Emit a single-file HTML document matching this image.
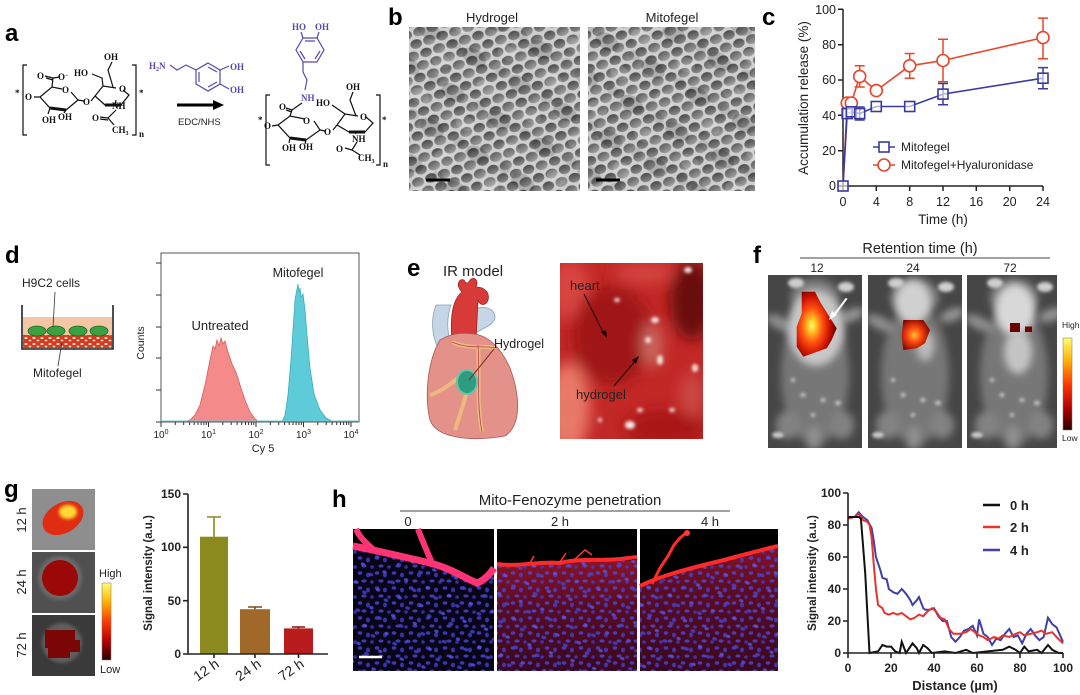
<!DOCTYPE html>
<html><head><meta charset="utf-8"><style>
html,body{margin:0;padding:0;background:#fff;}
svg{display:block;}
text{font-family:"Liberation Sans",Arial,sans-serif;fill:#222;}
.ch{font-family:"Liberation Serif",serif;font-weight:bold;font-size:9px;fill:#111;}
.cp{font-family:"Liberation Serif",serif;font-weight:bold;font-size:9px;fill:#5848b0;}
.pl{font-size:24px;font-weight:bold;fill:#000;}
.bd{font-weight:bold;}
</style></head><body>
<svg width="1080" height="695" viewBox="0 0 1080 695" xmlns="http://www.w3.org/2000/svg">
<defs>
 <filter id="b2" x="-30%" y="-30%" width="160%" height="160%"><feGaussianBlur stdDeviation="1.5"/></filter>
 <filter id="b4" x="-50%" y="-50%" width="200%" height="200%"><feGaussianBlur stdDeviation="4"/></filter>
 <filter id="b7" x="-50%" y="-50%" width="200%" height="200%"><feGaussianBlur stdDeviation="7"/></filter>
 <linearGradient id="cellg" x1="0" y1="0" x2="0" y2="1">
  <stop offset="0" stop-color="#4a4a4a"/><stop offset="1" stop-color="#8a8a8a"/>
 </linearGradient>
 <linearGradient id="cellh" x1="0" y1="0" x2="0.3" y2="1">
  <stop offset="0" stop-color="#555"/><stop offset="1" stop-color="#9a9a9a"/>
 </linearGradient>
 <pattern id="sem" width="26" height="44" patternUnits="userSpaceOnUse" patternTransform="rotate(-18) scale(1.05 1)">
  <rect width="26" height="44" fill="#cfcfcf"/>
  <ellipse cx="6.5" cy="5.5" rx="5.6" ry="4.6" fill="url(#cellg)"/>
  <ellipse cx="19.5" cy="5.5" rx="5.8" ry="4.9" fill="url(#cellh)"/>
  <ellipse cx="0" cy="16.5" rx="5.7" ry="4.8" fill="url(#cellh)"/>
  <ellipse cx="13" cy="16.5" rx="5.5" ry="4.6" fill="url(#cellg)"/>
  <ellipse cx="26" cy="16.5" rx="5.7" ry="4.8" fill="url(#cellh)"/>
  <ellipse cx="6.5" cy="27.5" rx="5.8" ry="4.7" fill="url(#cellh)"/>
  <ellipse cx="19.5" cy="27.5" rx="5.5" ry="4.8" fill="url(#cellg)"/>
  <ellipse cx="0" cy="38.5" rx="5.6" ry="4.7" fill="url(#cellg)"/>
  <ellipse cx="13" cy="38.5" rx="5.8" ry="4.9" fill="url(#cellh)"/>
  <ellipse cx="26" cy="38.5" rx="5.6" ry="4.7" fill="url(#cellg)"/>
 </pattern>
 <pattern id="sem2" width="53" height="41" patternUnits="userSpaceOnUse" patternTransform="rotate(31)">
  <ellipse cx="12" cy="10" rx="13" ry="8" fill="#000" opacity="0.16"/>
  <ellipse cx="38" cy="30" rx="10" ry="7" fill="#fff" opacity="0.14"/>
  <ellipse cx="42" cy="8" rx="6" ry="5" fill="#000" opacity="0.1"/>
 </pattern>
 <pattern id="nuc1" width="17" height="15" patternUnits="userSpaceOnUse">
  <ellipse cx="3" cy="3" rx="2.3" ry="1.7" fill="#4a4ae6"/>
  <ellipse cx="11" cy="5" rx="2" ry="2.4" fill="#4444d8"/>
  <ellipse cx="7" cy="11" rx="2.6" ry="1.6" fill="#5050e0"/>
  <ellipse cx="15" cy="12" rx="1.8" ry="1.8" fill="#4040d0"/>
 </pattern>
 <pattern id="nuc2" width="23" height="19" patternUnits="userSpaceOnUse" patternTransform="rotate(20)">
  <ellipse cx="5" cy="7" rx="2.2" ry="1.6" fill="#5a5af0"/>
  <ellipse cx="16" cy="14" rx="2.5" ry="1.8" fill="#4848d8"/>
 </pattern>
 <pattern id="mesh" width="8" height="6" patternUnits="userSpaceOnUse">
  <rect width="8" height="6" fill="#d83a1e"/>
  <ellipse cx="2" cy="2" rx="1.6" ry="1" fill="#fbe6d8"/>
  <ellipse cx="6" cy="4.5" rx="1.4" ry="0.9" fill="#fbe6d8"/>
 </pattern>
 <linearGradient id="heat" x1="0" y1="0" x2="0" y2="1">
  <stop offset="0" stop-color="#ffff70"/><stop offset="0.25" stop-color="#ffb000"/>
  <stop offset="0.5" stop-color="#ff3a00"/><stop offset="0.75" stop-color="#b80000"/>
  <stop offset="1" stop-color="#2a0000"/>
 </linearGradient>
 <radialGradient id="hot1" cx="0.38" cy="0.52" r="0.6">
  <stop offset="0" stop-color="#ffff70"/><stop offset="0.18" stop-color="#ffc020"/>
  <stop offset="0.45" stop-color="#ff5010"/><stop offset="0.75" stop-color="#c81000"/>
  <stop offset="1" stop-color="#700000"/>
 </radialGradient>
 <radialGradient id="hot2" cx="0.45" cy="0.5" r="0.6">
  <stop offset="0" stop-color="#ffc030"/><stop offset="0.4" stop-color="#ff4a10"/>
  <stop offset="1" stop-color="#7a0000"/>
 </radialGradient>
 <linearGradient id="haze" x1="0" y1="0" x2="0" y2="1">
  <stop offset="0" stop-color="#8a1428"/><stop offset="0.4" stop-color="#5a0c24"/>
  <stop offset="1" stop-color="#3a0822"/>
 </linearGradient>
 <g id="mouse">
  <rect width="95" height="173" fill="#464646"/>
  <g filter="url(#b4)">
   <ellipse cx="47" cy="100" rx="34" ry="70" fill="#777"/>
   <ellipse cx="47" cy="22" rx="24" ry="18" fill="#808080"/>
   <ellipse cx="12" cy="48" rx="15" ry="6" fill="#929292" transform="rotate(25 12 48)"/>
   <ellipse cx="84" cy="40" rx="13" ry="6" fill="#969696" transform="rotate(-20 84 40)"/>
   <ellipse cx="20" cy="150" rx="12" ry="14" fill="#828282"/>
   <ellipse cx="74" cy="150" rx="12" ry="14" fill="#828282"/>
   <rect x="40" y="152" width="12" height="22" fill="#909090"/>
  </g>
  <g filter="url(#b2)" fill="#cfcfcf">
   <ellipse cx="28" cy="8" rx="8" ry="5"/>
   <ellipse cx="78" cy="12" rx="8" ry="5"/>
   <ellipse cx="35" cy="120" rx="2.5" ry="2"/>
   <ellipse cx="55" cy="125" rx="2.5" ry="2"/>
   <ellipse cx="45" cy="140" rx="2" ry="2"/>
   <ellipse cx="70" cy="128" rx="3" ry="2"/>
   <ellipse cx="25" cy="105" rx="2" ry="2"/>
   <ellipse cx="10" cy="160" rx="6" ry="3"/>
  </g>
 </g>
 <clipPath id="cf1"><rect x="768" y="275" width="94" height="173"/></clipPath>
 <clipPath id="cf2"><rect x="868" y="275" width="94" height="173"/></clipPath>
 <clipPath id="cf3"><rect x="967" y="275" width="90" height="173"/></clipPath>
 <clipPath id="cE"><rect x="560" y="263" width="143" height="176"/></clipPath>
 <clipPath id="ch0"><path d="M353,548 L380,553 L430,565 L463,577 L477,585 L494,572 L494,671 L353,671 Z"/></clipPath>
 <clipPath id="ch2"><path d="M497,565 L637,560 L637,671 L497,671 Z"/></clipPath>
 <clipPath id="ch4"><path d="M640,587 L700,567 L778,547 L778,671 L640,671 Z"/></clipPath>
 <clipPath id="cg"><rect x="32" y="489" width="63" height="187"/></clipPath>
</defs>
<rect width="1080" height="695" fill="#fff"/>

<!-- ========== Panel a ========== -->
<text class="pl" x="5" y="41">a</text>
<g stroke="#111" stroke-width="1.2" fill="none">
 <path d="M27,65 H23 V135 H27 M132,65 H136 V135 H132"/>
 <path d="M34,97 L40,97 L52,87 L62,89 M71,92 L78,100 L66,110 L50,108 L40,97"/>
 <path d="M50,108 L66,110" stroke-width="3"/>
 <path d="M52,87 L53,78 L45,76 M53,80 L46,78 M53,78 L60,77"/>
 <path d="M50,108 L48,114 M66,110 L64,113 M78,100 L84,101 M91,101 L95,96"/>
 <path d="M95,96 L103,86 L116,88 M123,90 L129,95 L121,105 L105,105 L95,96"/>
 <path d="M105,105 L121,105" stroke-width="3"/>
 <path d="M103,86 L102,78 L92,74 M113,87 L108,70 L112,62 M115,105 L116,100 M116,110 L108,118 M108,118 L100,117 M108,120 L100,119 M108,118 L114,125"/>
</g>
<text class="ch" x="15" y="96">*</text>
<text class="ch" x="25" y="100">O</text>
<text class="ch" x="37" y="79">O</text>
<text class="ch" x="58" y="80">O<tspan dy="-3" font-size="6">−</tspan></text>
<text class="ch" x="62" y="93">O</text>
<text class="ch" x="42" y="123">OH</text>
<text class="ch" x="58" y="120">OH</text>
<text class="ch" x="83" y="105">O</text>
<text class="ch" x="119" y="92">O</text>
<text class="ch" x="74" y="76">HO</text>
<text class="ch" x="104" y="60">OH</text>
<text class="ch" x="112" y="109">NH</text>
<text class="ch" x="92" y="121">O</text>
<text class="ch" x="112" y="133">CH<tspan font-size="6" dy="2">3</tspan></text>
<text class="ch" x="139" y="96">*</text>
<text class="ch" x="139" y="137" font-size="7">n</text>
<g stroke="#5848b0" stroke-width="1.2" fill="none">
 <path d="M170,65 L177,70 L186,65 L196,70"/>
 <path d="M208,63 L220,70 L220,84 L208,91 L196,84 L196,70 Z"/>
 <path d="M208,67 L217,72 M217,82 L208,87 M199,72 L199,82"/>
 <path d="M220,70 L229,66 M220,84 L229,89"/>
</g>
<text class="cp" x="149" y="69">H<tspan font-size="6" dy="2">2</tspan><tspan dy="-2">N</tspan></text>
<text class="cp" x="230" y="70">OH</text>
<text class="cp" x="230" y="93">OH</text>
<path d="M177,105 H214" stroke="#000" stroke-width="3"/>
<polygon points="213,100 224,105 213,110" fill="#000"/>
<text x="178" y="125" font-size="9.5" fill="#333">EDC/NHS</text>
<g stroke="#5848b0" stroke-width="1.2" fill="none">
 <path d="M303,38 L317,38 L324,50 L317,62 L303,62 L296,50 Z"/>
 <path d="M305,41 L315,41 M320,51 L315,59 M300,51 L305,59"/>
 <path d="M303,38 L301,32 M317,38 L319,32 M303,62 L303,72 L307,80 L305,90"/>
</g>
<text class="cp" x="292" y="30">HO</text>
<text class="cp" x="315" y="30">OH</text>
<text class="cp" x="301" y="101">NH</text>
<g stroke="#111" stroke-width="1.2" fill="none">
 <path d="M270,95 H266 V165 H270 M376,95 H380 V165 H376"/>
 <path d="M302,103 L292,110 L290,116 M292,110 L286,108 M292,112 L286,110"/>
 <path d="M272,126 L278,125 L290,116 L305,119 M314,121 L320,130 L306,140 L290,138 L278,125"/>
 <path d="M290,138 L306,140" stroke-width="3"/>
 <path d="M290,138 L289,143 M306,140 L305,144 M320,130 L325,131 M333,130 L337,125"/>
 <path d="M337,125 L345,114 L358,116 M366,117 L373,123 L365,132 L349,132 L337,125"/>
 <path d="M349,132 L365,132" stroke-width="3"/>
 <path d="M345,114 L332,105 M356,116 L350,100 L353,92 M355,132 L356,134 M357,142 L352,150 L345,148 M352,150 L360,155"/>
</g>
<text class="ch" x="258" y="123">*</text>
<text class="ch" x="264" y="129">O</text>
<text class="ch" x="279" y="110">O</text>
<text class="ch" x="303" y="124">O</text>
<text class="ch" x="282" y="151">OH</text>
<text class="ch" x="299" y="150">OH</text>
<text class="ch" x="324" y="135">O</text>
<text class="ch" x="360" y="120">O</text>
<text class="ch" x="316" y="106">HO</text>
<text class="ch" x="346" y="90">OH</text>
<text class="ch" x="352" y="142">NH</text>
<text class="ch" x="336" y="152">O</text>
<text class="ch" x="358" y="161">CH<tspan font-size="6" dy="2">3</tspan></text>
<text class="ch" x="382" y="123">*</text>
<text class="ch" x="383" y="167" font-size="7">n</text>

<!-- ========== Panel b ========== -->
<text class="pl" x="388" y="25">b</text>
<text x="492" y="22" font-size="13" text-anchor="middle">Hydrogel</text>
<text x="672" y="22" font-size="13" text-anchor="middle">Mitofegel</text>
<rect x="409" y="27" width="171" height="164" fill="url(#sem)"/>
<rect x="409" y="27" width="171" height="164" fill="url(#sem2)"/>
<rect x="588" y="27" width="167" height="164" fill="url(#sem)"/>
<rect x="588" y="27" width="167" height="164" fill="url(#sem2)"/>
<path d="M426,180 H450 M596,180 H620" stroke="#000" stroke-width="3"/>

<!-- ========== Panel c ========== -->
<text class="pl" x="762" y="25">c</text>
<g stroke="#222" stroke-width="1.5" fill="none">
 <path d="M843,9 V186 H1043"/>
 <path d="M838,9.3 H843 M838,44.7 H843 M838,80 H843 M838,115.3 H843 M838,150.7 H843 M838,186 H843"/>
 <path d="M843,186 V191 M876.3,186 V191 M909.7,186 V191 M943,186 V191 M976.3,186 V191 M1009.7,186 V191 M1043,186 V191"/>
</g>
<g font-size="12.5" text-anchor="end">
 <text x="836" y="14">100</text><text x="836" y="49">80</text><text x="836" y="84">60</text>
 <text x="836" y="120">40</text><text x="836" y="155">20</text><text x="836" y="190">0</text>
</g>
<g font-size="12.5" text-anchor="middle">
 <text x="843" y="206">0</text><text x="876.3" y="206">4</text><text x="909.7" y="206">8</text>
 <text x="943" y="206">12</text><text x="976.3" y="206">16</text><text x="1009.7" y="206">20</text><text x="1043" y="206">24</text>
</g>
<text x="943" y="224" font-size="13.5" text-anchor="middle">Time (h)</text>
<text transform="translate(808,98) rotate(-90)" font-size="13.5" text-anchor="middle">Accumulation release (%)</text>
<g stroke="#3a3aa0" stroke-width="1.5">
 <path d="M847.2,108 V119 M851.3,107 V117 M859.7,107 V120 M854.7,107 H864.7 M854.7,120 H864.7"/>
 <path d="M943,83.5 V104.7 M938,83.5 H948 M938,104.7 H948"/>
 <path d="M1043,67.6 V88.8 M1038,67.6 H1048 M1038,88.8 H1048"/>
</g>
<g stroke="#e8442c" stroke-width="1.5">
 <path d="M859.7,65.8 V87 M854.7,65.8 H864.7 M854.7,87 H864.7"/>
 <path d="M909.7,53.5 V78.2 M904.7,53.5 H914.7 M904.7,78.2 H914.7"/>
 <path d="M943,39.3 V81.7 M938,39.3 H948 M938,81.7 H948"/>
 <path d="M1043,18.1 V58.8 M1038,18.1 H1048 M1038,58.8 H1048"/>
</g>
<polyline points="843,186 847.2,103 851.3,103 859.7,76.4 876.3,90.6 909.7,65.8 943,60.5 1043,37.6" fill="none" stroke="#e8442c" stroke-width="1.6"/>
<polyline points="843,186 847.2,113.6 851.3,111.8 859.7,113.6 876.3,106.5 909.7,106.5 943,94.1 1043,78.2" fill="none" stroke="#3a3aa0" stroke-width="1.6"/>
<g fill="#fff" stroke="#e8442c" stroke-width="1.6">
 <circle cx="847.2" cy="103" r="6"/><circle cx="851.3" cy="103" r="6"/><circle cx="859.7" cy="76.4" r="6"/>
 <circle cx="876.3" cy="90.6" r="6"/><circle cx="909.7" cy="65.8" r="6"/><circle cx="943" cy="60.5" r="6"/><circle cx="1043" cy="37.6" r="6"/>
</g>
<g fill="#fff" fill-opacity="0.6" stroke="#3a3aa0" stroke-width="1.6">
 <rect x="838" y="181" width="10" height="10"/>
 <rect x="842.2" y="108.6" width="10" height="10"/><rect x="846.3" y="106.8" width="10" height="10"/><rect x="854.7" y="108.6" width="10" height="10"/>
 <rect x="871.3" y="101.5" width="10" height="10"/><rect x="904.7" y="101.5" width="10" height="10"/><rect x="938" y="89.1" width="10" height="10"/><rect x="1038" y="73.2" width="10" height="10"/>
</g>
<path d="M873,147 H895" stroke="#3a3aa0" stroke-width="1.6"/>
<rect x="879" y="142" width="10" height="10" fill="#fff" stroke="#3a3aa0" stroke-width="1.6"/>
<text x="901" y="151" font-size="12">Mitofegel</text>
<path d="M873,165 H895" stroke="#e8442c" stroke-width="1.6"/>
<circle cx="884" cy="165" r="6" fill="#fff" stroke="#e8442c" stroke-width="1.6"/>
<text x="901" y="169" font-size="12">Mitofegel+Hyaluronidase</text>

<!-- ========== Panel d ========== -->
<text class="pl" x="5" y="263">d</text>
<text x="22" y="287" font-size="12">H9C2 cells</text>
<rect x="23" y="317" width="89" height="31" fill="#f3c6a6"/>
<rect x="23" y="335" width="89" height="13" fill="url(#mesh)"/>
<g fill="#3aa040" stroke="#1f6a25" stroke-width="0.8">
 <ellipse cx="37" cy="331" rx="9" ry="5"/><ellipse cx="56" cy="331" rx="9" ry="5"/>
 <ellipse cx="78" cy="331" rx="9" ry="5"/><ellipse cx="99" cy="331" rx="9" ry="5"/>
</g>
<path d="M22,305 V349 H113 V305" fill="none" stroke="#222" stroke-width="1.6"/>
<path d="M55,292 L53,327 M62,342 L58,366" stroke="#333" stroke-width="0.8"/>
<text x="33" y="377" font-size="12">Mitofegel</text>
<path d="M183,422 L190,420 L195,415 L200,405 L205,385 L210,360 L213,346 L215,349 L217,340 L219,346 L221,338 L223,344 L225,341 L228,352 L232,364 L236,372 L240,385 L245,400 L250,412 L255,419 L259,422 Z" fill="#f48a8a" stroke="#dc5c5c" stroke-width="0.8"/>
<path d="M282,422 L285,415 L288,395 L291,360 L293,330 L295,300 L297,289 L298,284 L299,292 L300,288 L301,297 L303,294 L305,310 L307,335 L310,368 L314,394 L320,410 L326,418 L334,422 Z" fill="#5ecbd8" stroke="#3aaebe" stroke-width="0.8"/>
<path d="M162,421 H358" stroke="#6cc8d4" stroke-width="1"/>
<rect x="161" y="253" width="198" height="169" fill="none" stroke="#555" stroke-width="1"/>
<g stroke="#333" stroke-width="1">
 <path d="M156,263 H161 M156,295 H161 M156,327 H161 M156,358 H161 M156,390 H161 M156,422 H161"/>
 <path d="M161,422 V427 M208.5,422 V427 M256,422 V427 M303.5,422 V427 M351,422 V427"/>
 <path d="M175.3,422 V425 M183.7,422 V425 M189.6,422 V425 M194.2,422 V425 M198,422 V425 M201.1,422 V425 M203.9,422 V425 M206.3,422 V425
 M222.8,422 V425 M231.2,422 V425 M237.1,422 V425 M241.7,422 V425 M245.5,422 V425 M248.6,422 V425 M251.4,422 V425 M253.8,422 V425
 M270.3,422 V425 M278.7,422 V425 M284.6,422 V425 M289.2,422 V425 M293,422 V425 M296.1,422 V425 M298.9,422 V425 M301.3,422 V425
 M317.8,422 V425 M326.2,422 V425 M332.1,422 V425 M336.7,422 V425 M340.5,422 V425 M343.6,422 V425 M346.4,422 V425 M348.8,422 V425"/>
</g>
<g font-size="10" text-anchor="middle">
 <text x="161" y="438">10<tspan font-size="7" dy="-4">0</tspan></text>
 <text x="208.5" y="438">10<tspan font-size="7" dy="-4">1</tspan></text>
 <text x="256" y="438">10<tspan font-size="7" dy="-4">2</tspan></text>
 <text x="303.5" y="438">10<tspan font-size="7" dy="-4">3</tspan></text>
 <text x="351" y="438">10<tspan font-size="7" dy="-4">4</tspan></text>
</g>
<text x="263" y="452" font-size="11" text-anchor="middle">Cy 5</text>
<text transform="translate(144,343) rotate(-90)" font-size="10.5" text-anchor="middle">Counts</text>
<text x="220" y="330" font-size="13" text-anchor="middle">Untreated</text>
<text x="298" y="277" font-size="12.5" text-anchor="middle">Mitofegel</text>

<!-- ========== Panel e ========== -->
<text class="pl" x="407" y="276">e</text>
<text x="443" y="276" font-size="15">IR model</text>
<path d="M436,305 C431,318 431,335 439,350 L452,347 C446,332 447,316 451,305 Z" fill="#c6d6e6" stroke="#8aa0b8" stroke-width="0.8"/>
<path d="M470,312 C480,305 493,306 495,316 C495,324 487,326 481,330 L470,336 Z" fill="#c6d6e6" stroke="#8aa0b8" stroke-width="0.8"/>
<path d="M452,342 C450,318 452,300 462,292 C456,286 458,278 464,280 C466,284 468,284 470,280 C474,276 479,280 476,287 C484,287 490,292 488,300 C486,306 480,306 478,300 L476,340 Z" fill="#d83a3a" stroke="#a02020" stroke-width="0.8"/>
<path d="M440,340 C428,360 424,395 430,420 C436,438 470,442 505,436 C522,425 520,395 510,368 C502,350 490,336 474,334 C462,332 450,334 440,340 Z" fill="#e4918a" stroke="#a85858" stroke-width="0.8"/>
<path d="M452,342 C470,350 485,345 495,348 M478,345 C480,370 476,400 482,432 M470,380 C465,400 460,415 455,430 M430,395 C445,390 455,380 462,375" fill="none" stroke="#f0c27a" stroke-width="4" opacity="0.8"/>
<path d="M478,345 C480,370 476,400 482,432 M452,342 C470,350 485,345 495,348" fill="none" stroke="#b04848" stroke-width="0.8"/>
<ellipse cx="467" cy="382" rx="10" ry="12" fill="#2f9c80" stroke="#62c6a8" stroke-width="2"/>
<line x1="469" y1="380" x2="494" y2="349" stroke="#8a2a2a" stroke-width="1"/>
<text x="494" y="348" font-size="12.5">Hydrogel</text>
<g clip-path="url(#cE)">
 <rect x="560" y="263" width="143" height="176" fill="#c22826"/>
 <g filter="url(#b7)">
  <ellipse cx="568" cy="408" rx="22" ry="45" fill="#e87868"/>
  <ellipse cx="570" cy="290" rx="20" ry="30" fill="#d84440"/>
  <ellipse cx="612" cy="335" rx="40" ry="50" fill="#a01418"/>
  <ellipse cx="692" cy="300" rx="22" ry="40" fill="#6a0c10"/>
  <ellipse cx="652" cy="345" rx="10" ry="22" fill="#cc6a62"/>
  <ellipse cx="665" cy="428" rx="40" ry="18" fill="#a81414"/>
  <ellipse cx="645" cy="273" rx="30" ry="10" fill="#d44440"/>
  <ellipse cx="692" cy="395" rx="12" ry="22" fill="#cc4a44"/>
 </g>
 <g fill="#f4e8e4" filter="url(#b2)">
  <ellipse cx="617" cy="300" rx="3" ry="2"/><ellipse cx="655" cy="320" rx="4" ry="3"/>
  <ellipse cx="660" cy="360" rx="3" ry="5"/><ellipse cx="640" cy="410" rx="3" ry="2"/>
  <ellipse cx="630" cy="425" rx="5" ry="4"/><ellipse cx="688" cy="270" rx="4" ry="3"/>
  <ellipse cx="695" cy="368" rx="3" ry="4"/><ellipse cx="672" cy="410" rx="3" ry="2"/>
  <ellipse cx="600" cy="420" rx="2" ry="2"/><ellipse cx="648" cy="340" rx="3" ry="3"/>
 </g>
</g>
<text x="570" y="290" font-size="13" fill="#1a0505">heart</text>
<path d="M584,294 L604,334" stroke="#1a0505" stroke-width="1"/>
<polygon points="601,332 607,338 606,330" fill="#1a0505"/>
<text x="576" y="399" font-size="13" fill="#1a0505">hydrogel</text>
<path d="M614,386 L636,360" stroke="#1a0505" stroke-width="1"/>
<polygon points="632,360 639,356 636,364" fill="#1a0505"/>

<!-- ========== Panel f ========== -->
<text class="pl" x="753" y="263">f</text>
<text x="920" y="253" font-size="14.5" text-anchor="middle">Retention time (h)</text>
<path d="M800,258 H1050" stroke="#444" stroke-width="1"/>
<text x="817" y="272" font-size="12" text-anchor="middle">12</text>
<text x="913" y="272" font-size="12" text-anchor="middle">24</text>
<text x="1010" y="272" font-size="12" text-anchor="middle">72</text>
<g clip-path="url(#cf1)">
 <use href="#mouse" x="768" y="275"/>
 <ellipse cx="816" cy="328" rx="28" ry="38" fill="#c8c8c8" filter="url(#b4)"/>
 <path d="M801.7,291.7 L815,291.7 L820,301.7 L828.3,315 L836.7,328.3 L831.7,340 L826.7,348.3 L803.3,356.7 L796.7,346.7 L796.7,326.7 L801.7,313.3 Z" fill="url(#hot1)"/>
 <path d="M846.7,298.3 L833,316.5" stroke="#fff" stroke-width="2"/>
 <polygon points="829,320 832,311 837,315" fill="#fff"/>
</g>
<g clip-path="url(#cf2)">
 <use href="#mouse" x="868" y="275"/>
 <ellipse cx="913" cy="302" rx="18" ry="22" fill="#d0d0d0" filter="url(#b4)"/>
 <ellipse cx="925" cy="345" rx="9" ry="16" fill="#bbb" filter="url(#b4)"/>
 <path d="M903.3,320 L923.3,320 L930,330 L925,343.3 L916.7,348.3 L903.3,350 L901.7,336.7 Z" fill="url(#hot2)"/>
</g>
<g clip-path="url(#cf3)">
 <use href="#mouse" x="967" y="275"/>
 <ellipse cx="1015" cy="310" rx="20" ry="26" fill="#d8d8d8" filter="url(#b4)"/>
 <ellipse cx="1018" cy="352" rx="14" ry="22" fill="#c4c4c4" filter="url(#b4)"/>
 <rect x="1010" y="323" width="10" height="9" fill="#6a0404"/>
 <rect x="1025" y="326.5" width="7" height="5.5" fill="#6a0404"/>
</g>
<text x="1062" y="328" font-size="8.5">High</text>
<rect x="1063" y="338" width="9" height="92" fill="url(#heat)" stroke="#777" stroke-width="0.5"/>
<text x="1062" y="441" font-size="8.5">Low</text>

<!-- ========== Panel g ========== -->
<text class="pl" x="4" y="497">g</text>
<g clip-path="url(#cg)">
 <rect x="32" y="489" width="63" height="61" fill="#8e8e8e"/>
 <ellipse cx="63" cy="518" rx="22" ry="15" transform="rotate(-30 63 518)" fill="#e02c10"/>
 <ellipse cx="68" cy="512" rx="9" ry="7" fill="#ffd830" filter="url(#b2)"/>
 <rect x="32" y="552" width="63" height="61" fill="#505050"/>
 <ellipse cx="60" cy="578" rx="22" ry="22" fill="#6a6a6a" filter="url(#b2)"/>
 <ellipse cx="60" cy="578" rx="18" ry="18" fill="#9c0808"/>
 <rect x="32" y="615" width="63" height="61" fill="#3a3a3a"/>
 <ellipse cx="62" cy="643" rx="20" ry="20" fill="#5e5e5e" filter="url(#b2)"/>
 <path d="M45,630 H75 V640 H80 V652 H70 V658 H48 V648 H45 Z" fill="#7a0606"/>
</g>
<path d="M32,551 H95 M32,614 H95" stroke="#fff" stroke-width="2"/>
<text transform="translate(26,520) rotate(-90)" font-size="13" text-anchor="middle">12 h</text>
<text transform="translate(26,582) rotate(-90)" font-size="13" text-anchor="middle">24 h</text>
<text transform="translate(26,645) rotate(-90)" font-size="13" text-anchor="middle">72 h</text>
<text x="99" y="577" font-size="11">High</text>
<rect x="102" y="583" width="9" height="77" fill="url(#heat)" stroke="#777" stroke-width="0.5"/>
<text x="100" y="673" font-size="11">Low</text>
<rect x="200" y="536.7" width="28" height="117.3" fill="#8b8a1e"/>
<rect x="240" y="609.2" width="30" height="44.8" fill="#a0692a"/>
<rect x="284" y="628.4" width="29" height="25.6" fill="#b81c1c"/>
<path d="M214,536.7 V517 M207,517 H221" stroke="#8b8a1e" stroke-width="1.6"/>
<path d="M255,609.2 V607 M248,607 H262" stroke="#7a4e1c" stroke-width="1.6"/>
<path d="M298.5,628.4 V627 M292,627 H305" stroke="#8a1010" stroke-width="1.6"/>
<g stroke="#222" stroke-width="1.6" fill="none">
 <path d="M188,494 V654 H328"/>
 <path d="M183,494 H188 M183,547.3 H188 M183,600.7 H188 M183,654 H188"/>
 <path d="M214,654 V658 M255,654 V658 M298.5,654 V658"/>
</g>
<g font-size="12" text-anchor="end" class="bd">
 <text x="181" y="498">150</text><text x="181" y="551">100</text><text x="181" y="605">50</text><text x="181" y="658">0</text>
</g>
<text transform="translate(152,573) rotate(-90)" font-size="11.5" text-anchor="middle" class="bd">Signal intensity (a.u.)</text>
<text transform="translate(220,666) rotate(-35)" font-size="14" text-anchor="end">12 h</text>
<text transform="translate(262,666) rotate(-35)" font-size="14" text-anchor="end">24 h</text>
<text transform="translate(305,666) rotate(-35)" font-size="14" text-anchor="end">72 h</text>

<!-- ========== Panel h ========== -->
<text class="pl" x="332" y="507">h</text>
<text x="570" y="505" font-size="15" text-anchor="middle">Mito-Fenozyme penetration</text>
<path d="M400,511 H730" stroke="#444" stroke-width="1"/>
<text x="408" y="526" font-size="13" text-anchor="middle">0</text>
<text x="560" y="526" font-size="13" text-anchor="middle">2 h</text>
<text x="710" y="526" font-size="13" text-anchor="middle">4 h</text>
<rect x="353" y="529" width="141" height="142" fill="#000"/>
<g clip-path="url(#ch0)">
 <rect x="353" y="529" width="141" height="142" fill="#0a0418"/>
 <rect x="353" y="529" width="141" height="142" fill="url(#nuc1)" opacity="0.75"/>
 <rect x="353" y="529" width="141" height="142" fill="url(#nuc2)" opacity="0.75"/>
</g>
<path d="M353,546 C370,549 400,556 430,563 C450,568 465,578 477,583 C485,580 490,574 494,568" fill="none" stroke="#ff3474" stroke-width="7"/>
<path d="M356,529 C360,538 366,543 374,550 M418,529 C422,540 426,549 432,563" fill="none" stroke="#ff3474" stroke-width="6"/>
<path d="M359,657 H382" stroke="#fff" stroke-width="2.5"/>
<rect x="497" y="529" width="140" height="142" fill="#000"/>
<g clip-path="url(#ch2)">
 <rect x="497" y="560" width="140" height="111" fill="url(#haze)"/>
 <rect x="497" y="529" width="140" height="142" fill="url(#nuc1)" opacity="0.75"/>
 <rect x="497" y="529" width="140" height="142" fill="url(#nuc2)" opacity="0.75"/>
</g>
<path d="M497,564 C520,567 540,561 560,563 C580,558 600,561 620,559 L637,557" fill="none" stroke="#ff2a2a" stroke-width="4"/>
<path d="M560,562 L566,553 M575,559 L585,550 L592,555 M530,563 L534,556" fill="none" stroke="#ff3a3a" stroke-width="1.5"/>
<rect x="640" y="529" width="138" height="142" fill="#000"/>
<g clip-path="url(#ch4)">
 <rect x="640" y="540" width="138" height="131" fill="url(#haze)"/>
 <rect x="640" y="529" width="138" height="142" fill="url(#nuc1)" opacity="0.75"/>
 <rect x="640" y="529" width="138" height="142" fill="url(#nuc2)" opacity="0.75"/>
</g>
<path d="M640,586 C660,576 690,568 720,561 C740,556 760,550 778,546" fill="none" stroke="#ff2a2a" stroke-width="4"/>
<path d="M652,584 L660,568 L668,556 L674,545 L680,538 L686,533" fill="none" stroke="#ff2a2a" stroke-width="3"/>
<circle cx="687" cy="533" r="3" fill="#ff3a3a"/>
<polyline fill="none" stroke="#4040a8" stroke-width="2" points="848,517 854.45,517 858.75,512.2 863.05,517 867.35,520.2 871.65,528.2 873.8,541 875.95,557 880.25,569.8 882.4,577.8 886.7,579.4 888.85,589 893.15,592.2 897.45,593.8 901.75,589 906.05,593.8 910.35,600.2 912.5,605 916.8,600.2 918.95,597 923.25,608.2 925.4,609.8 929.7,609.8 934,608.2 938.3,616.2 942.6,621 946.9,621 951.2,637 955.5,641.8 959.8,637 964.1,630.6 968.4,629 972.7,625.8 977,635.4 979.15,619.4 983.45,633.8 987.75,637 992.05,645 996.35,638.6 1000.65,640.2 1004.95,633.8 1009.25,629 1013.55,637 1017.85,635.4 1022.15,643.4 1026.45,633.8 1030.75,629 1035.05,635.4 1039.35,640.2 1043.65,637 1047.95,617.8 1052.25,624.2 1056.55,627.4 1060.85,637 1063,641.8"/>
<polyline fill="none" stroke="#e8332a" stroke-width="2" points="848,518.6 854.45,517 858.75,513.8 863.05,520.2 867.35,521.8 869.5,525 871.65,537.8 873.8,565 875.95,589 878.1,605 882.4,608.2 884.55,613 888.85,614.6 893.15,613 897.45,614.6 901.75,613 906.05,616.2 910.35,619.4 914.65,617.8 918.95,614.6 923.25,616.2 927.55,611.4 931.85,608.2 936.15,611.4 940.45,617.8 944.75,619.4 949.05,629 953.35,633.8 959.8,633.8 966.25,632.2 970.55,629 974.85,632.2 979.15,635.4 983.45,637 987.75,640.2 994.2,637 998.5,638.6 1002.8,635.4 1009.25,637 1015.7,633.8 1020,632.2 1024.3,635.4 1030.75,633.8 1037.2,632.2 1041.5,630.6 1045.8,633.8 1052.25,632.2 1056.55,637 1063,643.4"/>
<polyline fill="none" stroke="#111" stroke-width="2" points="848,517 858.75,517 860.9,518.6 865.2,573 869.5,653 878.1,651.4 882.4,645 886.7,646.6 891,646.6 895.3,651.4 899.6,653 901.75,641.8 906,653 912.5,643.4 916.8,648.2 919,653 923.25,645 927.6,648.2 931.9,653 944.75,651.4 955.5,653 966.25,649.8 972.7,653 1002.8,649.8 1009.25,646.6 1015.7,649.8 1020,653 1024.3,646.6 1028.6,651.4 1037.2,649.8 1041.5,653 1048,645 1052.25,649.8 1058.7,653 1063,653"/>
<g stroke="#222" stroke-width="1.6" fill="none">
 <path d="M848,493 V653 H1063"/>
 <path d="M843,493 H848 M843,525 H848 M843,557 H848 M843,589 H848 M843,621 H848 M843,653 H848"/>
 <path d="M848,653 V658 M891,653 V658 M934,653 V658 M977,653 V658 M1020,653 V658 M1063,653 V658"/>
</g>
<g font-size="12" text-anchor="end" class="bd">
 <text x="841" y="497">100</text><text x="841" y="529">80</text><text x="841" y="561">60</text>
 <text x="841" y="593">40</text><text x="841" y="625">20</text><text x="841" y="657">0</text>
</g>
<g font-size="12" text-anchor="middle" class="bd">
 <text x="848" y="672">0</text><text x="891" y="672">20</text><text x="934" y="672">40</text>
 <text x="977" y="672">60</text><text x="1020" y="672">80</text><text x="1063" y="672">100</text>
</g>
<text x="955" y="690" font-size="13" text-anchor="middle" class="bd">Distance (µm)</text>
<text transform="translate(816,573) rotate(-90)" font-size="11.5" text-anchor="middle" class="bd">Signal intensity (a.u.)</text>
<path d="M983,505 H1000" stroke="#111" stroke-width="2.5"/>
<text x="1010" y="510" font-size="13" class="bd">0 h</text>
<path d="M983,527 H1000" stroke="#e8332a" stroke-width="2.5"/>
<text x="1010" y="532" font-size="13" class="bd">2 h</text>
<path d="M983,550 H1000" stroke="#4040a8" stroke-width="2.5"/>
<text x="1010" y="555" font-size="13" class="bd">4 h</text>
</svg>
</body></html>
